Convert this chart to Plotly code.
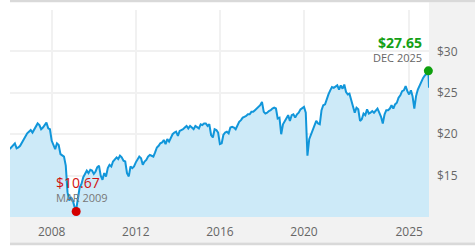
import plotly.graph_objects as go

years = list(range(2006, 2026))
monthly_values = {
    2006: [18.2, 18.4, 18.6, 18.9, 18.3, 18.4, 18.6, 19.0, 19.4, 19.8, 20.1, 20.3],
    2007: [20.5, 20.2, 20.6, 21.0, 21.3, 21.1, 20.6, 20.8, 21.2, 21.4, 20.7, 20.6],
    2008: [19.2, 18.6, 18.2, 18.9, 18.7, 17.6, 17.5, 17.3, 16.2, 13.0, 12.0, 12.4],
    2009: [12.0, 11.2, 10.9, 12.6, 13.6, 14.0, 14.8, 15.2, 15.6, 15.3, 15.7, 15.6],
    2010: [15.2, 15.5, 16.0, 16.2, 15.0, 14.5, 15.3, 14.9, 15.9, 16.3, 16.1, 16.7],
    2011: [16.9, 17.2, 17.0, 17.4, 17.2, 16.8, 16.7, 15.3, 14.9, 16.1, 15.9, 16.1],
    2012: [16.6, 17.0, 17.3, 17.1, 16.3, 16.7, 16.9, 17.3, 17.5, 17.4, 17.3, 17.8],
    2013: [18.4, 18.6, 18.9, 19.0, 19.3, 18.8, 19.4, 19.1, 19.6, 20.0, 20.2, 20.3],
    2014: [19.8, 20.4, 20.5, 20.6, 20.8, 21.0, 20.7, 21.0, 20.8, 20.6, 21.0, 20.9],
    2015: [20.7, 21.2, 21.1, 21.3, 21.3, 21.0, 21.2, 19.9, 19.6, 20.6, 20.5, 20.2],
    2016: [18.8, 18.9, 19.9, 20.2, 20.3, 20.1, 20.8, 20.9, 20.8, 20.6, 21.0, 21.5],
    2017: [21.7, 22.0, 22.1, 22.2, 22.4, 22.4, 22.7, 22.7, 22.9, 23.1, 23.3, 23.5],
    2018: [23.9, 22.7, 22.5, 22.6, 22.8, 22.9, 23.1, 23.2, 23.1, 21.9, 22.0, 20.0],
    2019: [21.2, 21.6, 21.8, 22.3, 21.6, 22.3, 22.4, 22.0, 22.4, 22.6, 23.0, 23.2],
    2020: [23.3, 22.6, 17.4, 19.4, 19.9, 20.5, 21.0, 21.6, 21.3, 21.2, 22.9, 23.5],
    2021: [23.6, 24.3, 24.8, 25.3, 25.7, 25.6, 25.8, 25.9, 25.4, 25.9, 25.5, 26.0],
    2022: [25.1, 24.8, 24.9, 24.2, 23.6, 22.6, 23.2, 23.0, 21.6, 21.8, 22.5, 22.3],
    2023: [23.0, 22.5, 22.6, 22.8, 22.6, 22.9, 23.1, 22.6, 22.1, 21.3, 22.4, 22.9],
    2024: [22.9, 23.1, 23.5, 23.1, 23.6, 23.8, 24.4, 24.7, 25.2, 25.3, 25.8, 25.2],
    2025: [24.8, 25.3, 24.6, 23.1, 24.6, 25.4, 25.9, 26.4, 26.8, 27.1, 27.3, 27.65],
}
last_date = "2025-12-12"
last_value = 25.6

low_date, low_value, low_label = "2009-03-01", 10.67, "MAR 2009"
high_date, high_value, high_label = "2025-12-01", 27.65, "DEC 2025"

x_ticks = ["2008-01-01", "2012-01-01", "2016-01-01", "2020-01-01", "2025-01-01"]
x_ticktext = ["2008", "2012", "2016", "2020", "2025"]
y_ticks = [15, 20, 25, 30, 35]
y_ticktext = ["$15", "$20", "$25", "$30", ""]

dates, values = [], []
for y in years:
    for m, v in enumerate(monthly_values[y], start=1):
        dates.append(f"{y}-{m:02d}-01")
        values.append(v)
dates.append(last_date)
values.append(last_value)

x_range = ["2006-01-06", last_date]
y_range = [10, 35]

LINE = "#1196da"
FILL = "#cdeaf8"
GRID = "#f1f1f1"
PANEL = "#f2f2f2"
BAR = "#d9d9d9"
FONT = "Open Sans"

fig = go.Figure()
fig.add_trace(go.Scatter(x=dates, y=values, mode="lines", line=dict(width=0, color=FILL),
                         fill="tozeroy", fillcolor=FILL, hoverinfo="skip", xaxis="x", yaxis="y"))
fig.add_trace(go.Scatter(x=dates, y=values, mode="lines", line=dict(width=2, color=LINE),
                         xaxis="x2", yaxis="y2"))
fig.add_trace(go.Scatter(x=[low_date], y=[low_value], mode="markers", cliponaxis=False,
                         marker=dict(size=9, color="#d40000"), xaxis="x2", yaxis="y2"))
fig.add_trace(go.Scatter(x=[high_date], y=[high_value], mode="markers", cliponaxis=False,
                         marker=dict(size=9, color="#0ea00e"), xaxis="x2", yaxis="y2"))

W = 419.0
H = 212.0
def px(p):
    return (p - 10) / W
def py(p):
    return (222 - p) / H

shapes = [
    dict(type="rect", xref="paper", yref="paper", x0=px(429), x1=px(476), y0=py(248), y1=py(2),
         fillcolor=PANEL, line=dict(width=0), layer="below"),
    dict(type="rect", xref="paper", yref="paper", x0=px(10), x1=px(476), y0=py(248), y1=py(222),
         fillcolor=PANEL, line=dict(width=0), layer="below"),
    dict(type="rect", xref="paper", yref="paper", x0=px(10), x1=px(476), y0=py(251), y1=py(248),
         fillcolor=BAR, line=dict(width=0), layer="below"),
    dict(type="rect", xref="paper", yref="paper", x0=px(10), x1=px(476), y0=py(2), y1=py(-1),
         fillcolor=BAR, line=dict(width=0), layer="below"),
]

high_text = (f"<span style='font-size:14px;color:#15a015;font-weight:bold'>${high_value:.2f}</span>"
             f"<br>{high_label}")
low_text = (f"<span style='font-size:14px;color:#d01010'>${low_value:.2f}</span>"
            f"<br>{low_label}")

annotations = [
    dict(x=high_date, y=high_value, xref="x2", yref="y2", text=high_text, showarrow=False,
         xanchor="right", yanchor="middle", align="right", xshift=-4, yshift=22,
         font=dict(family=FONT, size=11, color="#666666")),
    dict(x=low_date, y=low_value, xref="x2", yref="y2", text=low_text, showarrow=False,
         xanchor="left", yanchor="middle", align="left", xshift=-22, yshift=22,
         font=dict(family=FONT, size=11, color="#777777")),
]

fig.update_layout(
    width=475, height=250,
    margin=dict(l=10, r=46, t=10, b=28),
    paper_bgcolor="white",
    plot_bgcolor="rgba(0,0,0,0)",
    showlegend=False,
    shapes=shapes,
    annotations=annotations,
    font=dict(family=FONT, size=12, color="#666666"),
    xaxis=dict(type="date", range=x_range, domain=[0, 1], anchor="y",
               tickvals=x_ticks, ticktext=x_ticktext, showgrid=True, gridcolor=GRID, gridwidth=2,
               layer="above traces", zeroline=False, showline=False, ticks="",
               ticklabelstandoff=6, tickfont=dict(size=12, color="#666666")),
    yaxis=dict(range=y_range, domain=[0, 1], anchor="x", side="right",
               tickvals=y_ticks, ticktext=y_ticktext, showgrid=True, gridcolor=GRID, gridwidth=2,
               layer="above traces", zeroline=False, showline=False, ticks="",
               ticklabelstandoff=7, tickfont=dict(size=12, color="#666666")),
    xaxis2=dict(type="date", range=x_range, domain=[0, 1], anchor="y2", visible=False),
    yaxis2=dict(range=y_range, domain=[0, 1], anchor="x2", visible=False),
)

fig.write_html("out.html")
